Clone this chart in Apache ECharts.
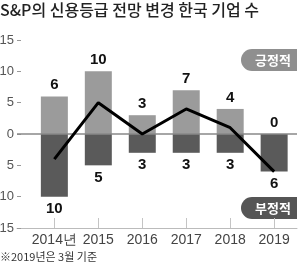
<!DOCTYPE html>
<html>
<head>
<meta charset="utf-8">
<script src="https://cdn.jsdelivr.net/npm/echarts@6/dist/echarts.min.js"></script>
<style>
  html, body { margin: 0; padding: 0; background: #fff; }
  #chart { width: 300px; height: 267px; }
</style>
</head>
<body>
<div id="chart"></div>
<script>
const years = ['2014년', '2015', '2016', '2017', '2018', '2019']
const positive = [6, 10, 3, 7, 4, 0]
const negative = [-10, -5, -3, -3, -3, -6]
const net = [-4, 5, 0, 4, 1, -6]

const NARROW = '"Liberation Sans Narrow", "Liberation Sans", sans-serif'
const KR = '"Noto Sans CJK KR", sans-serif'

const idx = years.map((_, i) => i)
const chart = echarts.init(document.getElementById('chart'), null, { renderer: 'canvas' })

chart.setOption({
  animation: false,
  title: {
    text: 'S&P의 신용등급 전망 변경 한국 기업 수',
    left: 0,
    top: 2,
    padding: 0,
    textStyle: { fontFamily: KR, fontSize: 16, fontWeight: 500, color: '#222' },
  },
  grid: { left: 17, right: 3, top: 40, bottom: 39, containLabel: false, outerBoundsMode: 'none' },
  xAxis: {
    type: 'value',
    min: -0.85,
    max: 5.52,
    splitLine: { show: false },
    axisLine: { show: true, onZero: false, lineStyle: { color: '#bbb', width: 1 } },
    axisTick: { show: true, inside: true, length: 10, customValues: idx, lineStyle: { color: '#c4c4c4' } },
    axisLabel: {
      customValues: idx,
      formatter: v => years[Math.round(v)],
      fontFamily: NARROW,
      fontSize: 14,
      color: '#444',
      margin: 5,
    },
  },
  yAxis: {
    type: 'value',
    min: -15,
    max: 15,
    interval: 5,
    splitLine: { show: false },
    axisLine: { show: false, onZero: false },
    axisTick: { show: true, inside: true, length: 4, lineStyle: { color: '#999' } },
    axisLabel: {
      formatter: v => Math.abs(v),
      fontFamily: NARROW,
      fontSize: 13,
      color: '#555',
      margin: 3,
    },
  },
  series: [
    {
      type: 'bar',
      stack: 'a',
      barWidth: 27,
      data: positive.map((v, i) => [i, v]),
      itemStyle: { color: '#9b9b9b' },
      label: {
        show: true,
        position: 'top',
        distance: 4,
        formatter: p => p.value[1],
        fontFamily: NARROW,
        fontWeight: 'bold',
        fontSize: 15,
        color: '#111',
      },
      markLine: {
        silent: true,
        symbol: 'none',
        label: { show: false },
        lineStyle: { color: '#888', width: 1.5, type: 'solid' },
        data: [{ yAxis: 0 }],
      },
    },
    {
      type: 'bar',
      stack: 'a',
      barWidth: 27,
      data: negative.map((v, i) => [i, v]),
      itemStyle: { color: '#5a5a5a' },
      label: {
        show: true,
        position: 'bottom',
        distance: 5,
        formatter: p => Math.abs(p.value[1]),
        fontFamily: NARROW,
        fontWeight: 'bold',
        fontSize: 15,
        color: '#111',
      },
    },
    {
      type: 'line',
      data: net.map((v, i) => [i, v]),
      symbol: 'none',
      lineStyle: { color: '#000', width: 3 },
      z: 5,
    },
  ],
  graphic: [
    {
      type: 'group',
      left: 241,
      top: 49,
      children: [
        { type: 'rect', shape: { x: 0, y: 0, width: 56, height: 22, r: [11, 0, 0, 11] }, style: { fill: '#8f8f8f' } },
        { type: 'text', x: 32, y: 11, style: { text: '긍정적', fill: '#fff', font: 'bold 13px "Noto Sans CJK KR"', align: 'center', verticalAlign: 'middle' } },
      ],
    },
    {
      type: 'group',
      left: 241,
      top: 197,
      children: [
        { type: 'rect', shape: { x: 0, y: 0, width: 56, height: 22, r: [11, 0, 0, 11] }, style: { fill: '#555' } },
        { type: 'text', x: 32, y: 11, style: { text: '부정적', fill: '#fff', font: 'bold 13px "Noto Sans CJK KR"', align: 'center', verticalAlign: 'middle' } },
      ],
    },
    {
      type: 'text',
      left: 0,
      top: 251,
      style: { text: '※2019년은 3월 기준', fill: '#333', font: '11px "Noto Sans CJK KR"' },
    },
  ],
})
</script>
</body>
</html>
